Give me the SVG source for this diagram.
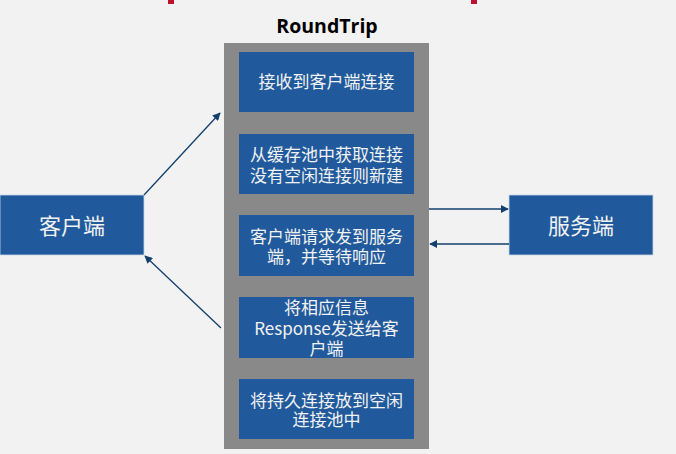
<svg xmlns="http://www.w3.org/2000/svg" width="676" height="454" viewBox="0 0 676 454">
<style>
.box{fill:#215a9c;}
.nodebox{fill:#215a9c;stroke:#c9d7e8;stroke-width:0.8;}
.t{font-family:"Noto Sans CJK SC","Open Sans",sans-serif;fill:#f2f2f2;font-size:17px;text-anchor:middle;}
.big{font-size:22px;}
.conn{stroke:#123f6c;stroke-width:1.3;fill:none;}
</style>
<defs>
<marker id="ah" viewBox="0 0 10 10" refX="9" refY="5" markerWidth="8" markerHeight="8" markerUnits="userSpaceOnUse" orient="auto">
<path d="M0,0 L10,5 L0,10 Z" fill="#123f6c"/>
</marker>
</defs>
<rect width="676" height="454" fill="#f2f2f2"/>
<rect x="168" y="0" width="6" height="4" fill="#c0102f"/>
<rect x="471" y="0" width="6" height="4" fill="#c0102f"/>
<text x="327" y="33" font-family="'Open Sans',sans-serif" font-weight="bold" font-size="19.5" text-anchor="middle" fill="#000">RoundTrip</text>
<g id="roundtrip">
<rect x="224" y="43" width="205" height="406" fill="#898989"/>
</g>
<g id="step1">
<rect class="box" x="239" y="52" width="175" height="60"/>
<text class="t" x="326.5" y="88">接收到客户端连接</text>
</g>
<g id="step2">
<rect class="box" x="239" y="134" width="175" height="60"/>
<text class="t" x="326.5" y="161">从缓存池中获取连接<tspan x="326.5" dy="21">没有空闲连接则新建</tspan></text>
</g>
<g id="step3">
<rect class="box" x="239" y="215" width="175" height="61"/>
<text class="t" x="326.5" y="243">客户端请求发到服务<tspan x="326.5" dy="20">端，并等待响应</tspan></text>
</g>
<g id="step4">
<rect class="box" x="239" y="297" width="175" height="61"/>
<text class="t" x="326.5" y="314">将相应信息<tspan x="326.5" dy="21">Response发送给客</tspan><tspan x="326.5" dy="20">户端</tspan></text>
</g>
<g id="step5">
<rect class="box" x="239" y="379" width="175" height="60"/>
<text class="t" x="326.5" y="407">将持久连接放到空闲<tspan x="326.5" dy="19">连接池中</tspan></text>
</g>
<g id="client">
<rect class="nodebox" x="0" y="195" width="144" height="60"/>
<text class="t big" x="72" y="234">客户端</text>
</g>
<g id="server">
<rect class="nodebox" x="509" y="195" width="144" height="60"/>
<text class="t big" x="581" y="234">服务端</text>
</g>
<g id="connectors">
<line class="conn" x1="144" y1="195" x2="220" y2="113" marker-end="url(#ah)"/>
<line class="conn" x1="221" y1="328" x2="145" y2="256" marker-end="url(#ah)"/>
<line class="conn" x1="429" y1="209" x2="508" y2="209" marker-end="url(#ah)"/>
<line class="conn" x1="509" y1="244" x2="430" y2="244" stroke="#2f6a98" marker-end="url(#ah)"/>
</g>
</svg>
